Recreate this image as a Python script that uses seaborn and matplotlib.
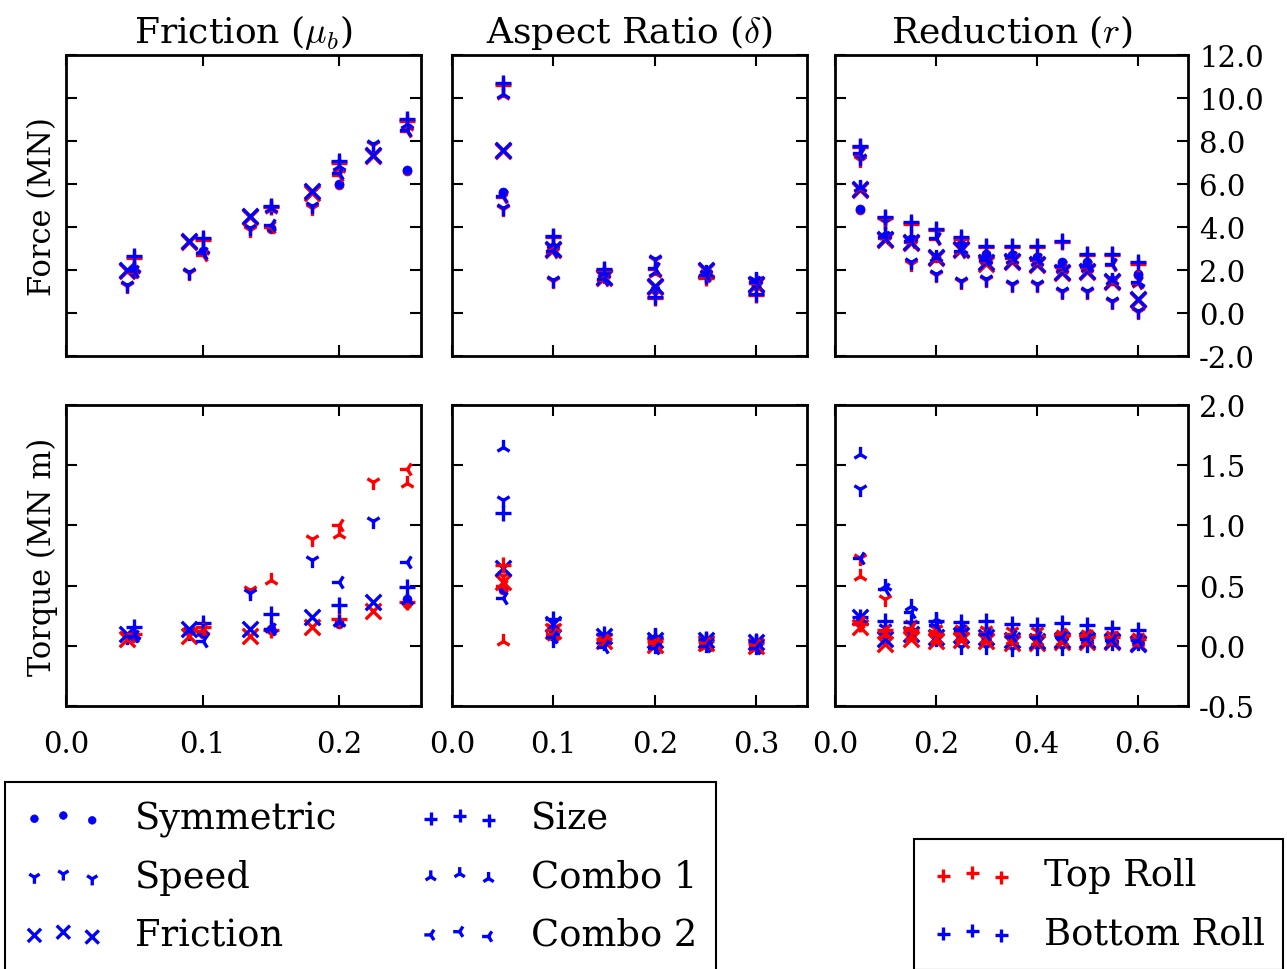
import numpy as np
import pandas as pd
import matplotlib
matplotlib.use("Agg")
import matplotlib.pyplot as plt
import seaborn as sns

# ---------------------------------------------------------------- data
cases = ["Symmetric", "Speed", "Friction", "Size", "Combo 1", "Combo 2"]
case_markers = ["o", "1", "x", "+", "2", "3"]
rolls = ["Top Roll", "Bottom Roll"]
roll_colors = ["red", "blue"]

col_titles = [r"Friction ($\mu_b$)", r"Aspect Ratio ($\delta$)", r"Reduction ($r$)"]
row_labels = ["Force (MN)", "Torque (MN m)"]

# friction sweep: Speed and Friction cases run on a shifted friction grid
fric_x_main = [0.05, 0.10, 0.15, 0.20, 0.25]
fric_x_alt = [0.045, 0.09, 0.135, 0.18, 0.225]
fric_case_grid = ["main", "alt", "alt", "main", "main", "main"]
aspect_x = [0.05, 0.10, 0.15, 0.20, 0.25, 0.30]
reduction_x = [0.05, 0.10, 0.15, 0.20, 0.25, 0.30, 0.35, 0.40, 0.45, 0.50, 0.55, 0.60]

# rows follow the order of `cases`
fric_force_top = [
    [1.95, 2.85, 3.90, 5.95, 6.62],
    [1.25, 1.88, 3.88, 4.90, 7.80],
    [1.95, 3.32, 4.48, 5.60, 7.30],
    [2.58, 3.40, 4.92, 7.00, 8.92],
    [2.05, 2.92, 4.82, 6.75, 8.70],
    [1.90, 2.68, 4.02, 6.40, 8.45],
]
fric_force_bot = [
    [2.00, 2.90, 3.95, 6.00, 6.67],
    [1.30, 1.92, 3.94, 4.96, 7.86],
    [2.00, 3.36, 4.53, 5.66, 7.36],
    [2.64, 3.47, 4.99, 7.09, 9.02],
    [2.10, 3.00, 4.90, 6.85, 8.79],
    [1.95, 2.80, 4.10, 6.50, 8.53],
]
fric_torque_top = [
    [0.08, 0.10, 0.13, 0.18, 0.35],
    [0.08, 0.12, 0.46, 0.89, 1.36],
    [0.06, 0.08, 0.08, 0.16, 0.29],
    [0.10, 0.16, 0.13, 0.22, 0.36],
    [0.09, 0.13, 0.55, 0.93, 1.35],
    [0.08, 0.12, 0.14, 1.00, 1.47],
]
fric_torque_bot = [
    [0.08, 0.11, 0.14, 0.19, 0.39],
    [0.07, 0.11, 0.44, 0.71, 1.04],
    [0.10, 0.14, 0.14, 0.24, 0.36],
    [0.16, 0.19, 0.26, 0.34, 0.49],
    [0.09, 0.12, 0.15, 0.20, 0.38],
    [0.08, 0.04, 0.14, 0.53, 0.70],
]

aspect_force_top = [
    [5.58, 3.00, 1.75, 1.05, 1.80, 1.25],
    [4.82, 1.50, 1.70, 2.45, 1.75, 1.45],
    [7.55, 2.92, 1.62, 1.22, 1.95, 1.30],
    [10.62, 3.52, 2.00, 0.70, 1.65, 0.84],
    [10.12, 3.12, 1.80, 1.85, 1.85, 1.55],
    [5.40, 2.85, 1.55, 2.05, 1.70, 1.40],
]
aspect_force_bot = [
    [5.65, 3.05, 1.80, 1.10, 1.85, 1.30],
    [4.90, 1.55, 1.75, 2.50, 1.80, 1.50],
    [7.60, 2.98, 1.67, 1.27, 2.00, 1.35],
    [10.70, 3.60, 2.05, 0.74, 1.70, 0.88],
    [10.20, 3.20, 1.85, 1.90, 1.90, 1.60],
    [5.45, 2.90, 1.60, 2.10, 1.75, 1.45],
]
aspect_torque_top = [
    [0.46, 0.10, 0.05, 0.03, 0.03, 0.01],
    [0.58, 0.15, 0.08, 0.05, 0.04, 0.02],
    [0.53, 0.12, 0.04, 0.01, 0.02, 0.00],
    [0.67, 0.13, 0.06, 0.04, 0.04, 0.02],
    [0.04, 0.08, 0.03, 0.00, 0.00, -0.02],
    [0.50, 0.10, 0.05, 0.02, 0.02, 0.01],
]
aspect_torque_bot = [
    [0.47, 0.10, 0.05, 0.03, 0.03, 0.01],
    [1.21, 0.05, 0.02, 0.00, 0.01, -0.01],
    [0.65, 0.18, 0.08, 0.05, 0.05, 0.03],
    [1.10, 0.22, 0.10, 0.07, 0.06, 0.04],
    [1.65, 0.12, 0.06, 0.09, 0.05, 0.03],
    [0.40, 0.07, -0.01, -0.02, 0.00, -0.02],
]

reduction_force_top = [
    [4.80, 3.55, 3.40, 2.55, 3.15, 2.70, 2.65, 2.55, 2.30, 2.30, 1.50, 1.76],
    [7.12, 4.25, 2.30, 1.76, 1.45, 1.52, 1.30, 1.30, 0.98, 0.98, 0.52, 0.05],
    [5.72, 3.40, 3.24, 2.54, 2.93, 2.30, 2.38, 2.22, 1.84, 1.92, 1.45, 0.60],
    [7.72, 4.40, 4.16, 3.85, 3.46, 3.08, 3.08, 3.08, 3.30, 2.68, 2.68, 2.30],
    [5.80, 3.62, 3.46, 2.55, 2.95, 2.45, 2.45, 2.35, 2.05, 2.10, 1.50, 1.38],
    [7.38, 3.50, 3.30, 3.45, 2.85, 2.40, 2.55, 2.45, 2.15, 2.15, 2.22, 1.38],
]
reduction_force_bot = [
    [4.84, 3.60, 3.45, 2.60, 3.20, 2.75, 2.70, 2.60, 2.35, 2.35, 1.55, 1.81],
    [7.20, 4.30, 2.36, 1.81, 1.50, 1.58, 1.35, 1.35, 1.04, 1.04, 0.57, 0.11],
    [5.77, 3.44, 3.29, 2.59, 2.98, 2.36, 2.43, 2.28, 1.89, 1.97, 1.50, 0.65],
    [7.78, 4.45, 4.22, 3.91, 3.52, 3.13, 3.13, 3.13, 3.36, 2.74, 2.74, 2.36],
    [5.85, 3.67, 3.52, 2.60, 3.00, 2.50, 2.50, 2.40, 2.10, 2.15, 1.55, 1.43],
    [7.45, 3.55, 3.35, 3.50, 2.90, 2.45, 2.60, 2.50, 2.20, 2.20, 2.28, 1.43],
]
reduction_torque_top = [
    [0.19, 0.10, 0.12, 0.10, 0.07, 0.06, 0.06, 0.06, 0.06, 0.06, 0.05, 0.04],
    [0.73, 0.39, 0.18, 0.14, 0.14, 0.13, 0.12, 0.12, 0.10, 0.10, 0.09, 0.07],
    [0.16, 0.015, 0.06, 0.04, 0.05, 0.04, 0.02, 0.02, 0.03, 0.03, 0.03, 0.02],
    [0.18, 0.13, 0.13, 0.10, 0.11, 0.10, 0.08, 0.08, 0.09, 0.07, 0.07, 0.06],
    [0.58, 0.10, 0.08, 0.06, 0.07, 0.06, 0.05, 0.04, 0.04, 0.04, 0.04, 0.03],
    [0.20, 0.12, 0.15, 0.12, 0.12, 0.11, 0.10, 0.09, 0.10, 0.09, 0.07, 0.06],
]
reduction_torque_bot = [
    [0.19, 0.10, 0.12, 0.10, 0.07, 0.06, 0.06, 0.06, 0.06, 0.06, 0.05, 0.04],
    [1.30, 0.15, 0.10, 0.06, -0.01, -0.01, -0.03, -0.02, -0.02, 0.01, 0.02, 0.02],
    [0.24, 0.06, 0.10, 0.07, 0.09, 0.07, 0.05, 0.04, 0.05, 0.05, 0.04, 0.015],
    [0.24, 0.21, 0.20, 0.21, 0.20, 0.21, 0.18, 0.17, 0.19, 0.17, 0.15, 0.13],
    [1.59, 0.50, 0.33, 0.22, 0.16, 0.12, 0.10, 0.09, 0.08, 0.07, 0.06, 0.05],
    [0.73, 0.47, 0.28, 0.17, 0.13, 0.10, 0.08, 0.07, 0.07, 0.06, 0.05, 0.05],
]

force_ticks = [-2, 0, 2, 4, 6, 8, 10, 12]
torque_ticks = [-0.5, 0.0, 0.5, 1.0, 1.5, 2.0]
col_xticks = [[0.0, 0.1, 0.2], [0.0, 0.1, 0.2, 0.3], [0.0, 0.2, 0.4, 0.6]]
col_xlims = [(0.0, 0.26), (0.0, 0.35), (0.0, 0.70)]

# ---------------------------------------------------------------- tidy frame
records = []
def add_panel(col, quantity, tops, bots, xgrid):
    for ci, case in enumerate(cases):
        xs = xgrid[ci]
        for roll, vals in zip(rolls, (tops[ci], bots[ci])):
            for xv, yv in zip(xs, vals):
                records.append(dict(col=col, quantity=quantity, case=case,
                                    roll=roll, x=xv, y=yv))

fric_grid = [fric_x_main if g == "main" else fric_x_alt for g in fric_case_grid]
add_panel(0, "force", fric_force_top, fric_force_bot, fric_grid)
add_panel(0, "torque", fric_torque_top, fric_torque_bot, fric_grid)
add_panel(1, "force", aspect_force_top, aspect_force_bot, [aspect_x] * 6)
add_panel(1, "torque", aspect_torque_top, aspect_torque_bot, [aspect_x] * 6)
add_panel(2, "force", reduction_force_top, reduction_force_bot, [reduction_x] * 6)
add_panel(2, "torque", reduction_torque_top, reduction_torque_bot, [reduction_x] * 6)
df = pd.DataFrame(records)

# ---------------------------------------------------------------- style
sns.set_theme(style="white", rc={
    "axes.linewidth": 2.0,
    "axes.edgecolor": "black",
    "text.color": "black",
    "axes.labelcolor": "black",
    "xtick.color": "black",
    "ytick.color": "black",
    "xtick.direction": "in",
    "ytick.direction": "in",
    "xtick.major.size": 8,
    "ytick.major.size": 8,
    "xtick.major.width": 1.5,
    "ytick.major.width": 1.5,
    "xtick.major.pad": 17,
    "ytick.major.pad": 8,
    "axes.unicode_minus": False,
    "mathtext.fontset": "cm",
})
plt.rcParams["font.family"] = ["DejaVu Serif"]

W, H = 1287, 970
fig = plt.figure(figsize=(W / 100, H / 100), dpi=100)

col_px = [(66, 421), (452, 807), (835, 1188)]
row_px = [(56, 357), (406, 707)]

axes = [[None] * 3 for _ in range(2)]
for r, (t, b) in enumerate(row_px):
    for c, (l, rr) in enumerate(col_px):
        axes[r][c] = fig.add_axes([l / W, 1 - b / H, (rr - l) / W, (b - t) / H])

marker_size = {"o": 42, "1": 120, "x": 125, "+": 125, "2": 120, "3": 120}
case_handles = {}
for r, quantity in enumerate(["force", "torque"]):
    for c in range(3):
        ax = axes[r][c]
        for case, mk in zip(cases, case_markers):
            for roll, colr in zip(rolls, roll_colors):
                sub = df[(df.col == c) & (df.quantity == quantity)
                         & (df.case == case) & (df.roll == roll)]
                kw = dict(color=colr, marker=mk, s=marker_size[mk], linewidth=2.4)
                if mk == "o":
                    kw["edgecolor"] = colr
                    kw["linewidth"] = 0.5
                sns.scatterplot(data=sub, x="x", y="y", ax=ax, legend=False, **kw)
                if r == 0 and c == 0 and roll == "Bottom Roll":
                    case_handles[case] = ax.collections[-1]

        ax.set_xlim(*col_xlims[c])
        ax.set_xticks(col_xticks[c])
        ax.set_xlabel("")
        ax.set_ylabel("")
        ax.tick_params(top=True, right=True, bottom=True, left=True,
                       labelsize=21)
        if quantity == "force":
            ax.set_ylim(-2, 12)
            ax.set_yticks(force_ticks)
        else:
            ax.set_ylim(-0.5, 2.0)
            ax.set_yticks(torque_ticks)
        ax.yaxis.set_major_formatter(matplotlib.ticker.FormatStrFormatter("%.1f"))
        ax.xaxis.set_major_formatter(matplotlib.ticker.FormatStrFormatter("%.1f"))
        if r == 0:
            ax.tick_params(labelbottom=False)
            ax.set_title(col_titles[c], fontsize=26, pad=9)
        if c < 2:
            ax.tick_params(labelleft=False)
        else:
            ax.tick_params(labelleft=False, labelright=True)
        if c == 0:
            ax.set_ylabel(row_labels[r], fontsize=22, labelpad=6)

# roll legend uses the Size markers of the first panel
ax0 = axes[0][0]
size_top = ax0.collections[cases.index("Size") * 2]
size_bot = ax0.collections[cases.index("Size") * 2 + 1]

leg_kw = dict(scatterpoints=3, scatteryoffsets=[0.375, 0.5, 0.3125],
              fontsize=26.5, frameon=True, fancybox=False, framealpha=1,
              edgecolor="black", borderaxespad=0, markerscale=0.85,
              handlelength=2.17, handletextpad=0.85, labelspacing=0.6,
              borderpad=0.5)
leg1 = fig.legend([case_handles[k] for k in cases], cases, ncol=2,
                  loc="upper left", bbox_to_anchor=(5 / W, 1 - 783 / H),
                  columnspacing=2.25, **leg_kw)
leg1.get_frame().set_linewidth(1.5)
leg2 = fig.legend([size_top, size_bot], rolls, loc="upper right",
                  bbox_to_anchor=(1283 / W, 1 - 840 / H), **leg_kw)
leg2.get_frame().set_linewidth(1.5)

fig.savefig("out.png", dpi=100)
